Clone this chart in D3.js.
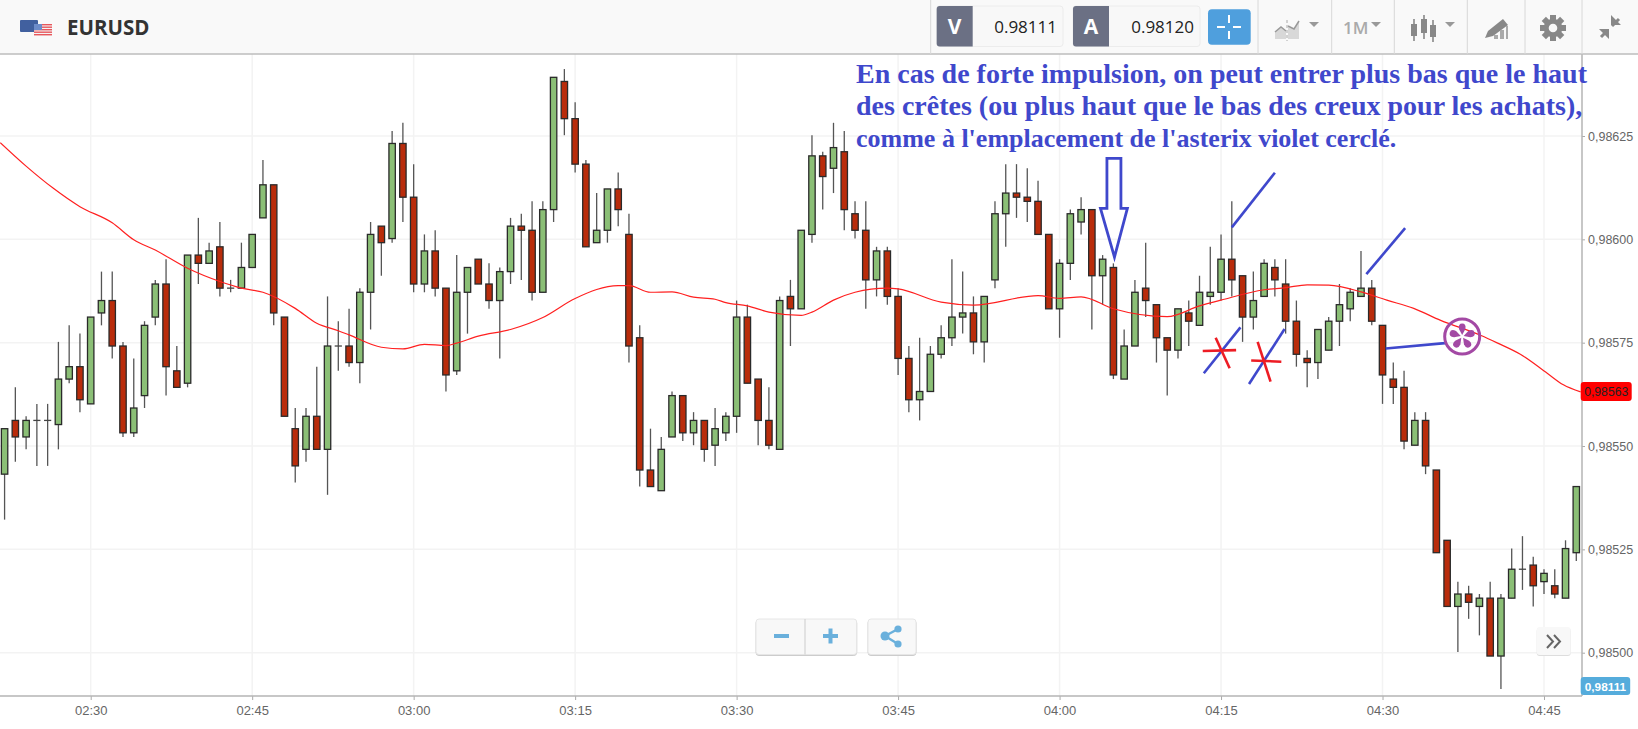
<!DOCTYPE html>
<html><head><meta charset="utf-8">
<script src="https://cdn.jsdelivr.net/npm/d3@7/dist/d3.min.js"></script>
<style>html,body{margin:0;padding:0;background:#fff;overflow:hidden}svg{display:block}</style>
</head><body><svg id="c" width="1638" height="729"></svg>
<script>
// Candle values, one per minute starting at 02:22
const opens=[0.98543,0.98556,0.98552,0.98556,0.98556,0.98555,0.98566,0.98569,0.98560,0.98582,0.98585,0.98574,0.98553,0.98562,0.98581,0.98589,0.98568,0.98565,0.98596,0.98594,0.98598,0.98588,0.98588,0.98593,0.98605,0.98613,0.98581,0.98554,0.98549,0.98557,0.98549,0.98574,0.98574,0.98570,0.98587,0.98603,0.98600,0.98623,0.98610,0.98589,0.98597,0.98588,0.98568,0.98587,0.98595,0.98589,0.98585,0.98592,0.98603,0.98602,0.98587,0.98607,0.98638,0.98629,0.98618,0.98599,0.98602,0.98612,0.98601,0.98576,0.98544,0.98539,0.98552,0.98562,0.98553,0.98556,0.98550,0.98553,0.98557,0.98581,0.98566,0.98556,0.98549,0.98586,0.98583,0.98601,0.98620,0.98617,0.98621,0.98606,0.98602,0.98590,0.98597,0.98586,0.98571,0.98561,0.98563,0.98572,0.98576,0.98581,0.98582,0.98575,0.98590,0.98606,0.98611,0.98610,0.98609,0.98601,0.98583,0.98594,0.98604,0.98607,0.98591,0.98593,0.98566,0.98574,0.98588,0.98584,0.98576,0.98573,0.98582,0.98579,0.98586,0.98587,0.98595,0.98591,0.98581,0.98586,0.98593,0.98589,0.98580,0.98571,0.98570,0.98573,0.98580,0.98583,0.98586,0.98588,0.98579,0.98566,0.98564,0.98550,0.98556,0.98544,0.98527,0.98511,0.98514,0.98511,0.98513,0.98499,0.98513,0.98520,0.98521,0.98517,0.98516,0.98513,0.98524];
const closes=[0.98554,0.98552,0.98556,0.98556,0.98556,0.98566,0.98569,0.98561,0.98581,0.98585,0.98574,0.98553,0.98559,0.98579,0.98589,0.98569,0.98564,0.98596,0.98594,0.98597,0.98588,0.98588,0.98593,0.98601,0.98613,0.98582,0.98557,0.98545,0.98557,0.98549,0.98574,0.98574,0.98570,0.98587,0.98601,0.98599,0.98623,0.98610,0.98589,0.98597,0.98588,0.98567,0.98587,0.98593,0.98589,0.98585,0.98592,0.98603,0.98602,0.98587,0.98607,0.98639,0.98629,0.98618,0.98598,0.98602,0.98612,0.98607,0.98574,0.98544,0.98540,0.98549,0.98562,0.98553,0.98556,0.98549,0.98554,0.98557,0.98581,0.98565,0.98556,0.98550,0.98585,0.98583,0.98602,0.98620,0.98615,0.98622,0.98607,0.98602,0.98590,0.98597,0.98586,0.98571,0.98561,0.98563,0.98572,0.98576,0.98581,0.98582,0.98575,0.98586,0.98606,0.98611,0.98610,0.98609,0.98601,0.98583,0.98594,0.98606,0.98607,0.98591,0.98595,0.98567,0.98574,0.98587,0.98585,0.98576,0.98573,0.98583,0.98580,0.98587,0.98587,0.98595,0.98590,0.98581,0.98585,0.98594,0.98590,0.98580,0.98572,0.98570,0.98578,0.98580,0.98584,0.98587,0.98588,0.98580,0.98567,0.98564,0.98551,0.98556,0.98545,0.98524,0.98511,0.98514,0.98512,0.98513,0.98499,0.98513,0.98520,0.98520,0.98516,0.98519,0.98514,0.98525,0.98540];
const highs=[0.98554,0.98564,0.98557,0.98560,0.98560,0.98575,0.98579,0.98577,0.98581,0.98592,0.98592,0.98575,0.98571,0.98580,0.98590,0.98595,0.98574,0.98596,0.98605,0.98599,0.98604,0.98590,0.98599,0.98601,0.98619,0.98613,0.98581,0.98559,0.98559,0.98569,0.98586,0.98580,0.98583,0.98588,0.98604,0.98603,0.98626,0.98628,0.98618,0.98601,0.98602,0.98588,0.98596,0.98593,0.98595,0.98594,0.98593,0.98605,0.98606,0.98609,0.98609,0.98639,0.98641,0.98633,0.98619,0.98611,0.98612,0.98616,0.98606,0.98579,0.98554,0.98552,0.98563,0.98562,0.98558,0.98556,0.98559,0.98558,0.98585,0.98584,0.98566,0.98564,0.98586,0.98590,0.98602,0.98625,0.98621,0.98628,0.98626,0.98609,0.98609,0.98598,0.98598,0.98588,0.98574,0.98576,0.98574,0.98579,0.98595,0.98592,0.98586,0.98586,0.98609,0.98618,0.98618,0.98617,0.98614,0.98601,0.98595,0.98607,0.98610,0.98607,0.98596,0.98594,0.98578,0.98590,0.98599,0.98584,0.98576,0.98583,0.98585,0.98591,0.98598,0.98601,0.98609,0.98591,0.98592,0.98595,0.98595,0.98595,0.98585,0.98573,0.98578,0.98581,0.98589,0.98588,0.98597,0.98590,0.98579,0.98570,0.98568,0.98558,0.98558,0.98544,0.98527,0.98517,0.98516,0.98514,0.98517,0.98514,0.98525,0.98528,0.98523,0.98520,0.98520,0.98527,0.98540];
const lows=[0.98532,0.98546,0.98549,0.98545,0.98545,0.98549,0.98565,0.98558,0.98560,0.98579,0.98571,0.98552,0.98552,0.98559,0.98579,0.98562,0.98564,0.98564,0.98589,0.98594,0.98586,0.98587,0.98588,0.98593,0.98605,0.98579,0.98557,0.98541,0.98546,0.98549,0.98538,0.98568,0.98569,0.98565,0.98578,0.98591,0.98599,0.98604,0.98587,0.98587,0.98586,0.98563,0.98567,0.98577,0.98589,0.98583,0.98571,0.98589,0.98590,0.98585,0.98587,0.98604,0.98625,0.98616,0.98598,0.98599,0.98599,0.98603,0.98570,0.98540,0.98540,0.98539,0.98552,0.98551,0.98550,0.98546,0.98545,0.98551,0.98553,0.98565,0.98550,0.98549,0.98549,0.98574,0.98583,0.98599,0.98607,0.98611,0.98602,0.98600,0.98583,0.98586,0.98584,0.98567,0.98558,0.98556,0.98563,0.98571,0.98574,0.98577,0.98572,0.98570,0.98588,0.98598,0.98605,0.98604,0.98601,0.98583,0.98576,0.98590,0.98601,0.98578,0.98584,0.98566,0.98566,0.98574,0.98581,0.98570,0.98562,0.98571,0.98574,0.98579,0.98584,0.98585,0.98586,0.98575,0.98578,0.98586,0.98586,0.98577,0.98569,0.98564,0.98566,0.98573,0.98574,0.98580,0.98586,0.98579,0.98560,0.98560,0.98549,0.98550,0.98543,0.98524,0.98511,0.98500,0.98508,0.98504,0.98499,0.98491,0.98513,0.98515,0.98511,0.98514,0.98513,0.98513,0.98522];
// Moving average, read as [minute index, price]
const maMinutes=[-0.4,2.05,4.5,7,10,12,14,17,20,22,24,27,29,31,32,35,37,39,41,42,44,47,50,53,57,58,60,62,64,66,67,69,71,74,75,77,79,82,83,87,90,96,98,100,103,108,111,113,117,119,121,123,126,128.4,130.9,133.4,137.1,138.7,140.8,143.3,144.8,146.4];
const maValues=[0.986234,0.986176,0.986124,0.986079,0.98604,0.985999,0.985974,0.98593,0.985898,0.985882,0.985872,0.985833,0.985797,0.985779,0.985769,0.985739,0.985735,0.985746,0.985743,0.985749,0.985766,0.985782,0.985811,0.985857,0.985888,0.985888,0.985872,0.985873,0.98586,0.985855,0.985847,0.985839,0.985824,0.985816,0.985824,0.985853,0.985872,0.985882,0.98588,0.985848,0.985841,0.985864,0.985857,0.985861,0.985832,0.985813,0.985839,0.985853,0.985878,0.985883,0.98589,0.985889,0.985873,0.985853,0.985833,0.985804,0.985768,0.985749,0.985722,0.985676,0.985648,0.985631];
const priceTicks=[0.985,0.98525,0.9855,0.98575,0.986,0.98625];
const priceTickLabels=["0,98500","0,98525","0,98550","0,98575","0,98600","0,98625"];
const timeTicks=[8,23,38,53,68,83,98,113,128,143];
const timeTickLabels=["02:30","02:45","03:00","03:15","03:30","03:45","04:00","04:15","04:30","04:45"];
const lastMA="0,98563", lastBid="0,98111", bidQuote="0.98111", askQuote="0.98120", symbol="EURUSD", timeframe="1M";
const noteLines=["En cas de forte impulsion, on peut entrer plus bas que le haut","des crêtes (ou plus haut que le bas des creux pour les achats),","comme à l'emplacement de l'asterix violet cerclé."];
// Hand-drawn marks, as [minute index, points above 0.98500]
const arrowShape=[[102.4,119.6],[103.7,119.6],[103.7,107.5],[104.3,107.5],[103.1,95.7],[101.8,107.5],[102.4,107.5]];
const blueStrokes=[[[114,102.9],[118,116.1]],[[126.5,91.6],[130.1,102.7]],[[111.4,67.6],[114.8,78.7]],[[115.6,65],[118.9,78.3]],[[128.3,73.6],[133.8,74.9]]];
const redStrokes=[[[111.3,73],[114.4,73.2]],[[112.5,76.2],[113.8,68.8]],[[115.8,70.7],[118.6,70.4]],[[116.4,75.2],[117.6,65.6]]];
const circledMark=[135.4,76.5];

const svg=d3.select("#c");
const x=d3.scaleLinear().domain([8,143]).range([90.7,1544]);
const y=d3.scaleLinear().domain([0.985,0.98625]).range([652.7,136]);
const ya=p=>y(0.985+p*1e-5);
const plotR=1582, plotT=54, plotB=696;
svg.append("defs").append("clipPath").attr("id","plot").append("rect").attr("x",0).attr("y",plotT).attr("width",plotR).attr("height",plotB-plotT);
const FONT="'Open Sans',sans-serif", AX="'Liberation Sans',Arial,sans-serif";
svg.append("rect").attr("width",1638).attr("height",729).attr("fill","#fff");
// grid
const grid=svg.append("g").attr("stroke","#f3f3f3").attr("stroke-width",1.5);
grid.selectAll(".h").data(priceTicks).join("line").attr("x1",0).attr("x2",plotR).attr("y1",d=>y(d)).attr("y2",d=>y(d));
grid.selectAll(".v").data(timeTicks).join("line").attr("x1",d=>x(d)).attr("x2",d=>x(d)).attr("y1",plotT).attr("y2",plotB);
// candles
const plot=svg.append("g").attr("clip-path","url(#plot)");
const cg=plot.append("g").attr("transform","translate(0,-0.8)");
const idx=d3.range(opens.length);
cg.selectAll(".w").data(idx).join("line").attr("x1",i=>x(i)).attr("x2",i=>x(i))
 .attr("y1",i=>y(highs[i])).attr("y2",i=>y(lows[i])).attr("stroke","#555").attr("stroke-width",1.3);
const up=i=>closes[i]>opens[i];
cg.selectAll(".b").data(idx.filter(i=>closes[i]!==opens[i])).join("rect")
 .attr("x",i=>x(i)-3.2).attr("width",6.4)
 .attr("y",i=>y(Math.max(opens[i],closes[i])))
 .attr("height",i=>Math.abs(y(opens[i])-y(closes[i])))
 .attr("fill",i=>up(i)?"#8bbf76":"#b92c0b").attr("stroke","#2a2a2a").attr("stroke-width",1.3);
cg.selectAll(".d").data(idx.filter(i=>closes[i]===opens[i])).join("line")
 .attr("x1",i=>x(i)-3.6).attr("x2",i=>x(i)+3.6).attr("y1",i=>y(opens[i])).attr("y2",i=>y(opens[i]))
 .attr("stroke","#444").attr("stroke-width",1.3);
// moving average
const lineGen=d3.line().x(d=>x(d[0])).y(d=>y(d[1])).curve(d3.curveMonotoneX);
plot.append("path").datum(maMinutes.map((m,i)=>[m,maValues[i]])).attr("d",lineGen).attr("fill","none").attr("stroke","#ff2020").attr("stroke-width",1.2);
// axes
const axisY=d3.axisRight(y).tickValues(priceTicks).tickFormat((d,i)=>priceTickLabels[i]).tickSize(3).tickPadding(3);
const gy=svg.append("g").attr("transform",`translate(${plotR},0)`).call(axisY);
gy.select(".domain").remove();
gy.selectAll("line").attr("stroke","#aaa");
gy.selectAll("text").attr("font-family",AX).attr("font-size",12.5).attr("fill","#666");
const axisX=d3.axisBottom(x).tickValues(timeTicks).tickFormat((d,i)=>timeTickLabels[i]).tickSize(4).tickPadding(6);
const gx=svg.append("g").attr("transform",`translate(0,${plotB})`).call(axisX);
gx.select(".domain").remove();
gx.selectAll("line").attr("stroke","#aaa");
gx.selectAll("text").attr("font-family",AX).attr("font-size",13).attr("fill","#666");
svg.append("line").attr("x1",plotR).attr("x2",plotR).attr("y1",plotT).attr("y2",plotB).attr("stroke","#b4b4b4").attr("stroke-width",1.5);
svg.append("line").attr("x1",0).attr("x2",plotR).attr("y1",plotB).attr("y2",plotB).attr("stroke","#b4b4b4").attr("stroke-width",1.5);
// price badges
const badge=(bx,by,w,h,fill,txt,col,weight,size)=>{
 svg.append("rect").attr("x",bx).attr("y",by).attr("width",w).attr("height",h).attr("rx",3).attr("fill",fill);
 svg.append("text").attr("x",bx+w/2).attr("y",by+h/2+4.5).attr("text-anchor","middle").attr("font-family",AX).attr("font-size",size).attr("font-weight",weight).attr("fill",col).text(txt);
};
badge(1580.7,382,51,19,"#ff0000",lastMA,"#222","normal",12.2);
badge(1580.7,677,49.5,18,"#55acdc",lastBid,"#fff","bold",11.8);
// header
svg.append("rect").attr("width",1638).attr("height",54).attr("fill","#f9f9f9");
svg.append("line").attr("x1",0).attr("x2",1638).attr("y1",54).attr("y2",54).attr("stroke","#bdbdbd").attr("stroke-width",1.5);
const hdr=svg.append("g");
[930.7,1258,1331.7,1394.3,1467.3,1525,1582].forEach(s=>hdr.append("line").attr("x1",s).attr("x2",s).attr("y1",0).attr("y2",54).attr("stroke","#d8d8d8"));
// flags
hdr.append("rect").attr("x",20).attr("y",20).attr("width",18).attr("height",12).attr("rx",1).attr("fill","#41609f");
hdr.append("rect").attr("x",34).attr("y",24).attr("width",18).attr("height",12).attr("fill","#f4f4f4");
[24,26.5,29,31.5,34].forEach(s=>hdr.append("rect").attr("x",34).attr("y",s).attr("width",18).attr("height",1.4).attr("fill","#e8575c"));
hdr.append("rect").attr("x",34).attr("y",24).attr("width",8).attr("height",6).attr("fill","#6d8cc9");
hdr.append("text").attr("x",67).attr("y",35).attr("font-family",FONT).attr("font-weight",700).attr("font-size",20.5).attr("fill","#333").text(symbol);
// quotes
const quote=(bx,letter,val,endX)=>{
 hdr.append("rect").attr("x",bx).attr("y",6).attr("width",endX-bx).attr("height",40.5).attr("rx",3).attr("fill","#f8f8f8").attr("stroke","#ececec");
 hdr.append("path").attr("d",`M${bx+3} 6H${bx+36}V46.5H${bx+3}Q${bx} 46.5 ${bx} 43.5V9Q${bx} 6 ${bx+3} 6Z`).attr("fill","#6b7084");
 hdr.append("text").attr("x",bx+18).attr("y",34).attr("text-anchor","middle").attr("font-family",FONT).attr("font-weight",700).attr("font-size",21).attr("fill","#fff").text(letter);
 hdr.append("text").attr("x",endX-6).attr("y",33).attr("text-anchor","end").attr("font-family",FONT).attr("font-size",17).attr("fill","#222").text(val);
};
quote(936.7,"V",bidQuote,1063);
quote(1073,"A",askQuote,1200);
hdr.append("rect").attr("x",1208).attr("y",9.3).attr("width",42.7).attr("height",35.4).attr("rx",4).attr("fill","#4f9fdd");
hdr.append("path").attr("d","M1217 27H1225M1233 27H1241M1229 15V23M1229 31V39").attr("stroke","#fff").attr("stroke-width",2).attr("fill","none");
const caret=cx=>hdr.append("path").attr("d",`M${cx-5} 22H${cx+5}L${cx} 27Z`).attr("fill","#999");
caret(1314);caret(1376);caret(1450);
// chart-type icon
hdr.append("path").attr("d","M1275 39V32L1281 27L1286 31V39ZM1288 39V26L1294 29L1299 21V39Z").attr("fill","#d8d8d8");
hdr.append("path").attr("d","M1275 32L1281 27L1286 31M1288 26L1294 29L1299 21").attr("stroke","#999").attr("stroke-width",1.5).attr("fill","none");
hdr.append("line").attr("x1",1287).attr("x2",1287).attr("y1",20).attr("y2",41).attr("stroke","#aaa").attr("stroke-dasharray","3 2");
hdr.append("text").attr("x",1343).attr("y",34).attr("font-family",FONT).attr("font-weight",600).attr("font-size",17).attr("fill","#aaa").text(timeframe);
// candle icon
[[1414,24,36,19,41],[1424,19,33,15,39],[1433,25,37,20,42]].forEach(c=>{
 hdr.append("line").attr("x1",c[0]).attr("x2",c[0]).attr("y1",c[3]).attr("y2",c[4]).attr("stroke","#888").attr("stroke-width",1.6);
 hdr.append("rect").attr("x",c[0]-3).attr("y",c[1]).attr("width",6).attr("height",c[2]-c[1]).attr("fill","#888");
});
// drawing icon
hdr.append("path").attr("d","M1485 38L1488 31L1503 19L1508 25L1493 36Z").attr("fill","#888");
hdr.append("path").attr("d","M1494 39H1498V35H1494ZM1500 39H1504V30H1500ZM1506 39H1508V26H1506Z").attr("fill","#aaa");
// gear
const gear=hdr.append("g").attr("transform","translate(1553,28)");
d3.range(8).forEach(k=>gear.append("rect").attr("x",-3).attr("y",-13).attr("width",6).attr("height",6).attr("fill","#888").attr("transform",`rotate(${k*45})`));
gear.append("circle").attr("r",6.8).attr("fill","none").attr("stroke","#888").attr("stroke-width",5);
// collapse arrows
hdr.append("path").attr("d","M1601 37L1608 30M1619 19L1612 26").attr("stroke","#888").attr("stroke-width",3);
hdr.append("path").attr("d","M1599 29H1609V39ZM1611 15V25H1621Z").attr("fill","#888");
// zoom + share buttons
const btn=(bx,w)=>svg.append("rect").attr("x",bx).attr("y",619).attr("width",w).attr("height",35.5).attr("rx",3).attr("fill","#f8f8f8").attr("stroke","#e6e6e6").attr("style","filter:drop-shadow(0 1px 0 #ccc)");
btn(756,100.7);btn(868,48);
svg.append("line").attr("x1",805).attr("x2",805).attr("y1",619).attr("y2",654.5).attr("stroke","#ccc");
svg.append("path").attr("d","M774 636H789M823 636H838M830.5 628.5V643.5").attr("stroke","#6ab0dc").attr("stroke-width",4).attr("fill","none");
svg.append("path").attr("d","M885 636L898 629M885 636L898 644").attr("stroke","#6ab0dc").attr("stroke-width",2.5);
[[885,636,4.5],[898,629,3.6],[898,644,3.6]].forEach(c=>svg.append("circle").attr("cx",c[0]).attr("cy",c[1]).attr("r",c[2]).attr("fill","#6ab0dc"));
svg.append("rect").attr("x",1536.7).attr("y",627).attr("width",34).attr("height",28).attr("rx",3).attr("fill","#f8f8f8").attr("style","filter:drop-shadow(0 1px 0 #ddd)");
svg.append("path").attr("d","M1547 635L1553 641.5L1547 648M1554 635L1560 641.5L1554 648").attr("stroke","#666").attr("stroke-width",2).attr("fill","none");
// hand-drawn annotations
const ann=svg.append("g");
const pl=d3.line().x(d=>x(d[0])).y(d=>ya(d[1]));
ann.append("path").attr("d",pl(arrowShape)+"Z").attr("fill","none").attr("stroke","#3f48cc").attr("stroke-width",2.8).attr("stroke-linejoin","miter");
ann.selectAll(".bs").data(blueStrokes).join("path").attr("d",pl).attr("stroke","#3f48cc").attr("stroke-width",2.6).attr("fill","none");
ann.selectAll(".rs").data(redStrokes).join("path").attr("d",pl).attr("stroke","#ed1c24").attr("stroke-width",2.6).attr("fill","none");
const mk=ann.append("g").attr("transform",`translate(${x(circledMark[0])},${ya(circledMark[1])})`);
mk.append("circle").attr("r",17.5).attr("fill","none").attr("stroke","#a349a4").attr("stroke-width",3);
d3.range(5).forEach(k=>mk.append("path").attr("d","M0 -1.5L-3.2 -7.5Q-4.2 -13 0 -13Q4.2 -13 3.2 -7.5Z").attr("fill","#a349a4").attr("transform",`rotate(${k*72})`));
svg.append("g").selectAll("text").data(noteLines).join("text").attr("x",856).attr("y",(d,i)=>83+i*32)
 .attr("font-family","'Liberation Serif','Times New Roman',serif").attr("font-weight",700).attr("font-size",(d,i)=>i===2?26:28).attr("fill","#3f48cc").text(d=>d);
</script></body></html>
